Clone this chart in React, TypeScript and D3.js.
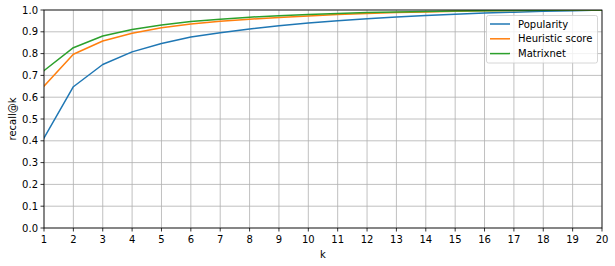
import React from "react";
import * as d3 from "d3";

const ks = d3.range(1, 21);
const popularity = [0.413, 0.648, 0.750, 0.808, 0.846, 0.876, 0.896, 0.913, 0.928, 0.940, 0.951, 0.960, 0.968, 0.975, 0.981, 0.986, 0.990, 0.994, 0.997, 1.0];
const heuristic = [0.651, 0.797, 0.858, 0.893, 0.919, 0.936, 0.948, 0.958, 0.966, 0.973, 0.979, 0.984, 0.988, 0.991, 0.994, 0.996, 0.998, 0.999, 1.0, 1.0];
const matrixnet = [0.722, 0.827, 0.881, 0.911, 0.931, 0.947, 0.958, 0.967, 0.974, 0.979, 0.984, 0.988, 0.991, 0.993, 0.995, 0.997, 0.998, 0.999, 1.0, 1.0];
const seriesNames = ["Popularity", "Heuristic score", "Matrixnet"];
const colors = ["#1f77b4", "#ff7f0e", "#2ca02c"];
const yTicks = d3.range(0, 11).map((i) => i / 10);

export default function App() {
  const W = 615, H = 266;
  const left = 44, right = 602, top = 10, bottom = 228;
  const x = d3.scaleLinear().domain([1, 20]).range([left, right]);
  const y = d3.scaleLinear().domain([0, 1]).range([bottom, top]);
  const line = d3.line<number>().x((_, i) => x(ks[i])).y((d) => y(d));
  const data = [popularity, heuristic, matrixnet];
  const font = "DejaVu Sans, sans-serif";
  return (
    <svg width={W} height={H} style={{ position: "absolute", left: 0, top: 0, background: "#fff" }}>
      <rect x={0} y={0} width={W} height={H} fill="#fff" />
      <defs>
        <clipPath id="clip">
          <rect x={left} y={top} width={right - left} height={bottom - top} />
        </clipPath>
      </defs>
      {ks.map((k) => (
        <line key={"gx" + k} x1={x(k)} x2={x(k)} y1={top} y2={bottom} stroke="#b0b0b0" strokeWidth={0.8} />
      ))}
      {yTicks.map((t) => (
        <line key={"gy" + t} x1={left} x2={right} y1={y(t)} y2={y(t)} stroke="#b0b0b0" strokeWidth={0.8} />
      ))}
      <g clipPath="url(#clip)">
        {data.map((d, i) => (
          <path key={i} d={line(d) || ""} fill="none" stroke={colors[i]} strokeWidth={1.5} strokeLinejoin="round" strokeLinecap="square" />
        ))}
      </g>
      <rect x={left} y={top} width={right - left} height={bottom - top} fill="none" stroke="#000" strokeWidth={0.8} />
      {ks.map((k) => (
        <g key={"tx" + k}>
          <line x1={x(k)} x2={x(k)} y1={bottom} y2={bottom + 3.5} stroke="#000" strokeWidth={0.8} />
          <text x={x(k)} y={bottom + 15} textAnchor="middle" fontSize={10} fontFamily={font} fill="#000">{k}</text>
        </g>
      ))}
      {yTicks.map((t) => (
        <g key={"ty" + t}>
          <line x1={left - 3.5} x2={left} y1={y(t)} y2={y(t)} stroke="#000" strokeWidth={0.8} />
          <text x={left - 6} y={y(t) + 3.6} textAnchor="end" fontSize={10} fontFamily={font} fill="#000">{t.toFixed(1)}</text>
        </g>
      ))}
      <text x={(left + right) / 2} y={258} textAnchor="middle" fontSize={10} fontFamily={font}>k</text>
      <text transform={`translate(16,${(top + bottom) / 2}) rotate(-90)`} textAnchor="middle" fontSize={10} fontFamily={font}>recall@k</text>
      <g>
        <rect x={486.5} y={15.5} width={111} height={47.5} rx={2} fill="#fff" fillOpacity={0.8} stroke="#cccccc" strokeWidth={0.8} />
        {seriesNames.map((n, i) => (
          <g key={n}>
            <line x1={490} x2={510} y1={24 + i * 14.8} y2={24 + i * 14.8} stroke={colors[i]} strokeWidth={1.5} />
            <text x={518} y={27.6 + i * 14.8} fontSize={10} fontFamily={font} fill="#000">{n}</text>
          </g>
        ))}
      </g>
    </svg>
  );
}
